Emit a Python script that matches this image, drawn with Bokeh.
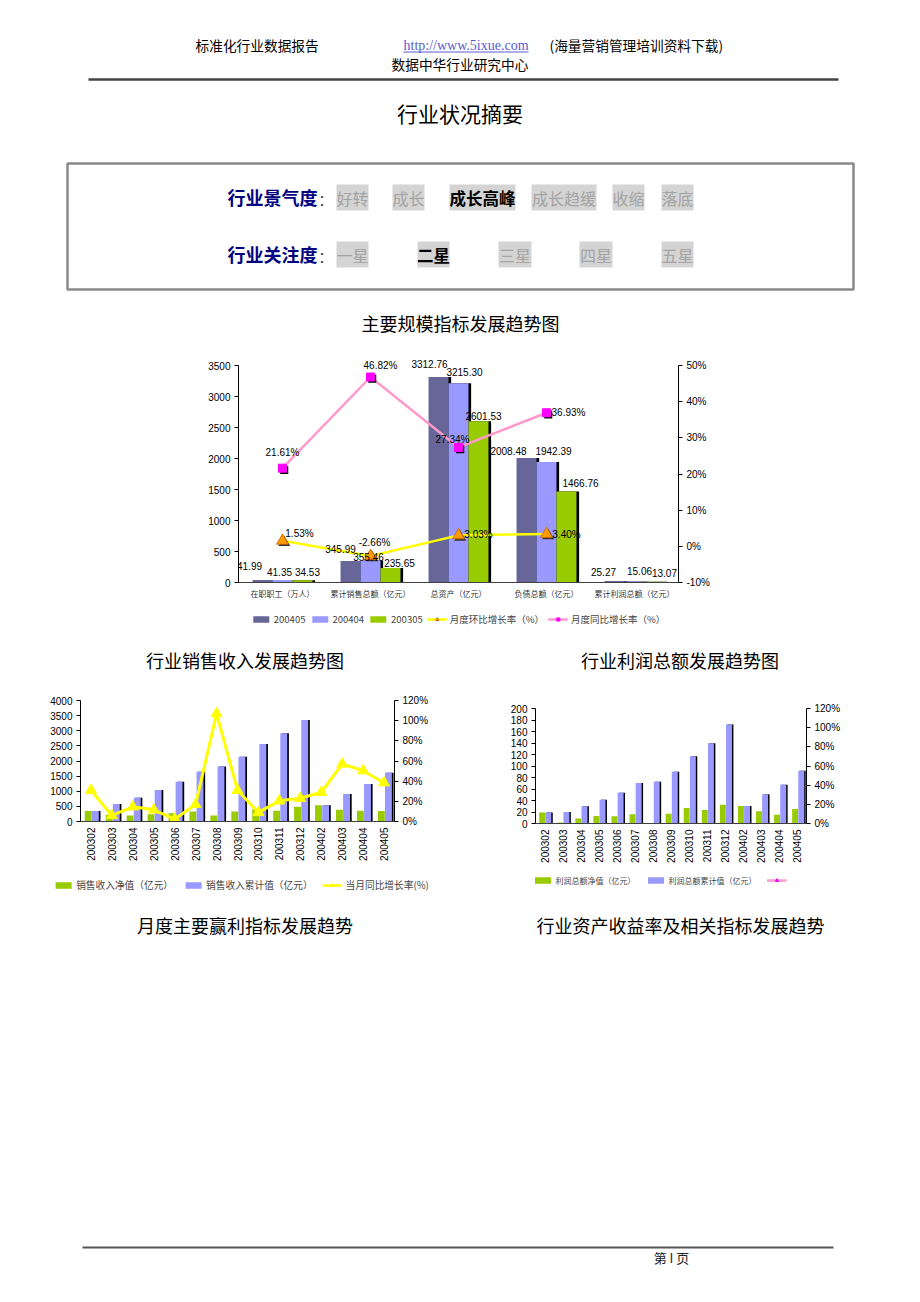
import math
from bokeh.plotting import figure
from bokeh.layouts import column, row
from bokeh.models import (Range1d, FactorRange, LinearAxis, FixedTicker, PrintfTickFormatter,
                          Legend, LegendItem, ColumnDataSource, Plot, LabelSet)
from bokeh.transform import dodge
from bokeh.core.properties import value
from bokeh.embed import file_html
from bokeh.resources import INLINE

CJK = "Noto Sans CJK SC"
SANS = "Liberation Sans"
SERIF = "Liberation Serif"

# ---------------- data ----------------
main_categories = ["在职职工（万人）", "累计销售总额（亿元）", "总资产（亿元）", "负债总额（亿元）", "累计利润总额（亿元）"]
v_200405 = [41.99, 345.99, 3312.76, 2008.48, 25.27]
v_200404 = [41.35, 355.46, 3215.30, 1942.39, 15.06]
v_200305 = [34.53, 235.65, 2601.53, 1466.76, 13.07]
mom_growth = [1.53, -2.66, 3.03, 3.40]      # 月度环比增长率（%）
yoy_growth = [21.61, 46.82, 27.34, 36.93]   # 月度同比增长率（%）
main_left_ticks = [0, 500, 1000, 1500, 2000, 2500, 3000, 3500]
main_right_ticks = [-10, 0, 10, 20, 30, 40, 50]

months = ["200302", "200303", "200304", "200305", "200306", "200307", "200308", "200309",
          "200310", "200311", "200312", "200402", "200403", "200404", "200405"]
sales_net = [350, 221, 199, 236, 270, 331, 200, 331, 409, 354, 486, 541, 387, 355, 346]
sales_cum = [350, 575, 785, 1040, 1315, 1646, 1820, 2144, 2564, 2917, 3359, 541, 906, 1238, 1613]
sales_yoy = [31, 6, 14.6, 11.6, 2.3, 17, 107, 31, 9, 20.5, 23, 29, 57, 50.4, 38.5]
sales_left_ticks = [0, 500, 1000, 1500, 2000, 2500, 3000, 3500, 4000]
sales_right_ticks = [0, 20, 40, 60, 80, 100, 120]

profit_net = [19, 1.7, 8.6, 13.07, 12.7, 16, 1, 17, 27, 23.6, 32.8, 30.5, 21.3, 15.06, 25.27]
profit_cum = [19, 20, 30, 41.5, 53.6, 70.3, 72.6, 89.9, 117, 139.4, 172.2, 30.5, 50.7, 67.4, 91.6]
profit_left_ticks = [0, 20, 40, 60, 80, 100, 120, 140, 160, 180, 200]
profit_right_ticks = [0, 20, 40, 60, 80, 100, 120]

climate_items = ["好转", "成长", "成长高峰", "成长趋缓", "收缩", "落底"]
climate_selected = "成长高峰"
attention_items = ["一星", "二星", "三星", "四星", "五星"]
attention_selected = "二星"

# ---------------- style ----------------
DARK = "#666699"
LIGHT = "#9999FF"
GREEN = "#99CC00"
YELLOW = "#FFFF00"
PINK = "#FF99CC"
MAGENTA = "#FF00FF"
ORANGE = "#FF9900"
NAN = float("nan")

HAS_FRAME_ALIGN = "frame_align" in Plot.properties()


def no_align(p):
    if HAS_FRAME_ALIGN:
        p.frame_align = False
    p.outline_line_color = None
    p.background_fill_color = "white"
    p.border_fill_color = "white"
    return p


def canvas(w, h, x0, y0, **borders):
    p = figure(width=w, height=h, x_range=Range1d(x0, x0 + w), y_range=Range1d(y0 + h, y0),
               output_backend="svg", toolbar_location=None, min_border=0,
               x_axis_location=None, y_axis_location=None, **borders)
    p.grid.grid_line_color = None
    return no_align(p)


def txt(p, x, y, s, size, color="black", font=CJK, style="normal", align="left"):
    p.text(x=[x], y=[y], text=[s], text_font=value(font), text_font_size=f"{size}px",
           text_color=color, text_font_style=style, text_align=align, text_baseline="middle")


def style_axes(p, label_size="10px"):
    for ax in p.yaxis:
        ax.axis_line_color = "black"
        ax.major_tick_line_color = "black"
        ax.major_tick_out = 4
        ax.major_tick_in = 0
        ax.minor_tick_line_color = None
        ax.major_label_text_font = SANS
        ax.major_label_text_font_size = label_size
        ax.major_label_text_color = "black"
        ax.major_label_standoff = 4
    for ax in p.xaxis:
        ax.axis_line_color = "#404040"
        ax.major_tick_line_color = None
        ax.major_tick_out = 0
        ax.major_tick_in = 0
        ax.minor_tick_line_color = None
    p.grid.grid_line_color = None


def legend_strip(w, h, items, font_size, spacing, **borders):
    """A strip holding a real Legend; its glyph keys come from empty renderers styled as in the chart."""
    p = canvas(w, h, 0, 0, **borders)
    entries = []
    for label, kind, style in items:
        rs = []
        if kind == "bar":
            rs.append(p.vbar(x=[NAN], top=[NAN], width=1, fill_color=style, line_color=None))
        else:
            lc, mk, mfill, mline = style
            rs.append(p.line(x=[NAN], y=[NAN], line_color=lc, line_width=2.5))
            rs.append(p.scatter(x=[NAN], y=[NAN], marker=mk, size=9, fill_color=mfill, line_color=mline))
        entries.append(LegendItem(label=label, renderers=rs))
    leg = Legend(items=entries, orientation="horizontal", location="center", glyph_width=20,
                 glyph_height=8, label_standoff=3, spacing=spacing, padding=0, margin=0,
                 border_line_color=None, background_fill_alpha=0, label_text_font=CJK,
                 label_text_font_size=font_size, label_height=12)
    p.add_layout(leg, "center")
    return p


# ---------------- top block (page y 0..345) ----------------
top = canvas(904, 345, 0, 0)
txt(top, 195, 44.7, "标准化行业数据报告", 13.7)
txt(top, 403, 44.7, "http://www.5ixue.com", 14, color="#5a5ad2", font=SERIF)
top.segment(x0=[403], y0=[51.5], x1=[528], y1=[51.5], line_color="#5a5ad2", line_width=1)
txt(top, 549, 44.7, "(海量营销管理培训资料下载)", 13.7)
txt(top, 391, 63, "数据中华行业研究中心", 13.7)
top.segment(x0=[88], y0=[79], x1=[838], y1=[79], line_color="#444444", line_width=2.5)
txt(top, 459.5, 112.7, "行业状况摘要", 21, align="center")
top.quad(left=[67], right=[853], top=[163], bottom=[289], fill_color=None,
         line_color="#8a8a8a", line_width=2.5)

txt(top, 227, 196, "行业景气度", 18, color="#000080", style="bold")
txt(top, 318, 198, "：", 14, color="#333333")
txt(top, 227, 253, "行业关注度", 18, color="#000080", style="bold")
txt(top, 318, 255, "：", 14, color="#333333")

climate_boxes = [(336, 368), (392, 424), (449, 515), (531, 596), (612, 644), (661, 693)]
attention_boxes = [(336, 368), (417, 449), (498, 531), (579, 612), (661, 693)]
for (l, r), s in zip(climate_boxes, climate_items):
    top.quad(left=[l], right=[r], top=[184], bottom=[210], fill_color="#d4d4d4", line_color=None)
    sel = s == climate_selected
    txt(top, (l + r) / 2, 197, s, 16.5 if sel else 16, color="black" if sel else "#a3a3a3",
        style="bold" if sel else "normal", align="center")
for (l, r), s in zip(attention_boxes, attention_items):
    top.quad(left=[l], right=[r], top=[241], bottom=[267], fill_color="#d4d4d4", line_color=None)
    sel = s == attention_selected
    txt(top, (l + r) / 2, 254, s, 16.5 if sel else 16, color="black" if sel else "#a3a3a3",
        style="bold" if sel else "normal", align="center")

txt(top, 460, 322, "主要规模指标发展趋势图", 18, align="center")

# ---------------- main chart (page y 345..605) ----------------
# The axes span 217 px (0..3500 / -10..50 %); the frame is 13 px taller on top so that the
# data labels near the top edge are not clipped. Axis bounds keep the axis lines to the data span.
AXIS_PX, FRAME_PX = 217.0, 230.0
left_end = main_left_ticks[-1] * FRAME_PX / AXIS_PX
pct_lo, pct_hi = main_right_ticks[0], main_right_ticks[-1]
right_end = pct_lo + (pct_hi - pct_lo) * FRAME_PX / AXIS_PX

pm = figure(width=904, height=260, x_range=FactorRange(*main_categories), y_range=Range1d(0, left_end),
            output_backend="svg", toolbar_location=None,
            min_border_left=238, min_border_right=226, min_border_top=7, min_border_bottom=23)
no_align(pm)
pm.extra_y_ranges = {"pct": Range1d(pct_lo, right_end)}
pm.yaxis.ticker = FixedTicker(ticks=main_left_ticks)
pm.yaxis.bounds = (main_left_ticks[0], main_left_ticks[-1])
pm.add_layout(LinearAxis(y_range_name="pct", ticker=FixedTicker(ticks=main_right_ticks),
                         bounds=(pct_lo, pct_hi),
                         formatter=PrintfTickFormatter(format="%d%%")), "right")
style_axes(pm)
pm.xaxis.major_label_text_font = CJK
pm.xaxis.major_label_text_font_size = "8px"
pm.xaxis.major_label_text_color = "#333333"
pm.xaxis.major_label_standoff = 5

msrc = ColumnDataSource(dict(
    cat=main_categories, a=v_200405, b=v_200404, c=v_200305,
    la=[f"{v:.2f}" for v in v_200405], lb=[f"{v:.2f}" for v in v_200404], lc=[f"{v:.2f}" for v in v_200305],
    ax=[-13, -10, -9, -18, -11], ay=[14, 12, 13, 7, 9],
    bx=[-3, -2, 6, 7, 5], by=[8, 3, 11, 11, 11],
    cx=[5, 9, 5, 14, 10], cy=[8, 5, 5, 9, 9],
))
BW = 0.227
for col, off, color in (("a", -BW, DARK), ("b", 0.0, LIGHT), ("c", BW, GREEN)):
    pm.vbar(x=dodge("cat", off + 0.03, range=pm.x_range), top=col, width=BW, source=msrc,
            fill_color="black", line_color=None)
    pm.vbar(x=dodge("cat", off, range=pm.x_range), top=col, width=BW, source=msrc,
            fill_color=color, line_color=None)

lsrc = ColumnDataSource(dict(
    cat=main_categories[:4], mom=mom_growth, yoy=yoy_growth,
    moml=[f"{v:.2f}%" for v in mom_growth], yoyl=[f"{v:.2f}%" for v in yoy_growth],
    momx=[17, 4, 20, 20], momy=[7, 13, 1, 0],
    yoyx=[0, 10, -6, 22], yoyy=[16, 12, 8, 0],
))
pm.line(x="cat", y="yoy", source=lsrc, y_range_name="pct", line_color=PINK, line_width=2.5)
pm.scatter(x=dodge("cat", 0.02, range=pm.x_range), y=dodge("yoy", -0.5), source=lsrc, y_range_name="pct",
           marker="square", size=8, fill_color="black", line_color=None)
pm.scatter(x="cat", y="yoy", source=lsrc, y_range_name="pct", marker="square", size=8,
           fill_color=MAGENTA, line_color=MAGENTA)
pm.line(x="cat", y="mom", source=lsrc, y_range_name="pct", line_color=YELLOW, line_width=2.5)
pm.scatter(x=dodge("cat", 0.02, range=pm.x_range), y=dodge("mom", -0.5), source=lsrc, y_range_name="pct",
           marker="triangle", size=12, fill_color="#333333", line_color=None)
pm.scatter(x="cat", y="mom", source=lsrc, y_range_name="pct", marker="triangle", size=12,
           fill_color=ORANGE, line_color="#cc6600", line_width=0.8)

for col, off, lab in (("a", -BW, "la"), ("b", 0.0, "lb"), ("c", BW, "lc")):
    pm.add_layout(LabelSet(x=dodge("cat", off, range=pm.x_range), y=col, text=lab, source=msrc,
                           x_offset=col + "x", y_offset=col + "y", text_align="center",
                           text_baseline="middle", text_font=value(SANS), text_font_size="10px",
                           text_color="black"))
for lab, yv, xo, yo in (("yoyl", "yoy", "yoyx", "yoyy"), ("moml", "mom", "momx", "momy")):
    pm.add_layout(LabelSet(x="cat", y=yv, text=lab, source=lsrc, y_range_name="pct",
                           x_offset=xo, y_offset=yo, text_align="center", text_baseline="middle",
                           text_font=value(SANS), text_font_size="10px", text_color="black"))

# legend strip for main chart (page y 605..632, centred at x 458)
mleg = legend_strip(904, 27, [
    ("200405", "bar", DARK),
    ("200404", "bar", LIGHT),
    ("200305", "bar", GREEN),
    ("月度环比增长率（%）", "line", (YELLOW, "triangle", ORANGE, "#cc6600")),
    ("月度同比增长率（%）", "line", (PINK, "square", MAGENTA, MAGENTA)),
], "9.5px", 4, min_border_left=12)

# ---------------- middle titles (page y 632..690) ----------------
mid = canvas(904, 58, 0, 632)
txt(mid, 244.5, 659, "行业销售收入发展趋势图", 18, align="center")
txt(mid, 679.5, 659, "行业利润总额发展趋势图", 18, align="center")


# ---------------- small charts (page y 690..870) ----------------
def small_chart(net, cum, left_ticks, ymax, right_ticks, mbl, mbr, mbt, mbb, yoy=None):
    p = figure(width=452, height=180, x_range=FactorRange(*months), y_range=Range1d(0, ymax),
               output_backend="svg", toolbar_location=None,
               min_border_left=mbl, min_border_right=mbr, min_border_top=mbt, min_border_bottom=mbb)
    no_align(p)
    p.extra_y_ranges = {"pct": Range1d(0, 120)}
    p.yaxis.ticker = FixedTicker(ticks=left_ticks)
    p.add_layout(LinearAxis(y_range_name="pct", ticker=FixedTicker(ticks=right_ticks),
                            formatter=PrintfTickFormatter(format="%d%%")), "right")
    style_axes(p)
    p.xaxis.major_label_orientation = math.pi / 2
    p.xaxis.major_label_text_font = SANS
    p.xaxis.major_label_text_font_size = "10px"
    p.xaxis.major_label_text_color = "black"
    p.xaxis.major_label_standoff = 6
    src = ColumnDataSource(dict(m=months, net=net, cum=cum))
    w = 0.33
    p.vbar(x=dodge("m", -0.13, range=p.x_range), top="net", width=w, source=src,
           fill_color=GREEN, line_color=None)
    p.vbar(x=dodge("m", 0.29, range=p.x_range), top="cum", width=w, source=src,
           fill_color="black", line_color=None)
    p.vbar(x=dodge("m", 0.21, range=p.x_range), top="cum", width=w, source=src,
           fill_color=LIGHT, line_color=None)
    if yoy is not None:
        ysrc = ColumnDataSource(dict(m=months, y=yoy))
        p.line(x="m", y="y", source=ysrc, y_range_name="pct", line_color=YELLOW, line_width=3)
        p.scatter(x="m", y="y", source=ysrc, y_range_name="pct", marker="triangle", size=11,
                  fill_color=YELLOW, line_color=YELLOW)
    return p


pl = small_chart(sales_net, sales_cum, sales_left_ticks, 4000, sales_right_ticks, 80, 58, 10, 49, yoy=sales_yoy)
pr = small_chart(profit_net, profit_cum, profit_left_ticks, 200, profit_right_ticks, 83, 98, 18, 47)

# legend strips for small charts (page y 870..900)
lleg = legend_strip(452, 30, [
    ("销售收入净值（亿元）", "bar", GREEN),
    ("销售收入累计值（亿元）", "bar", LIGHT),
    ("当月同比增长率(%)", "line", (YELLOW, "triangle", YELLOW, YELLOW)),
], "9.7px", 10, min_border_left=30)
rleg = legend_strip(452, 30, [
    ("利润总额净值（亿元）", "bar", GREEN),
    ("利润总额累计值（亿元）", "bar", LIGHT),
    (" ", "line", (PINK, "triangle", MAGENTA, MAGENTA)),
], "8px", 10, min_border_right=14, min_border_bottom=10)

# ---------------- bottom block (page y 900..1294) ----------------
bot = canvas(904, 394, 0, 900)
txt(bot, 244.5, 924, "月度主要赢利指标发展趋势", 18, align="center")
txt(bot, 680, 924, "行业资产收益率及相关指标发展趋势", 18, align="center")
bot.segment(x0=[82], y0=[1247], x1=[833], y1=[1247], line_color="#555555", line_width=2)
txt(bot, 671, 1256.5, "第 I 页", 13, color="#222222", align="center")

layout = column(top, pm, mleg, mid, row(pl, pr, spacing=0), row(lleg, rleg, spacing=0), bot, spacing=0)
open("out.html", "w").write(file_html(layout, INLINE))
